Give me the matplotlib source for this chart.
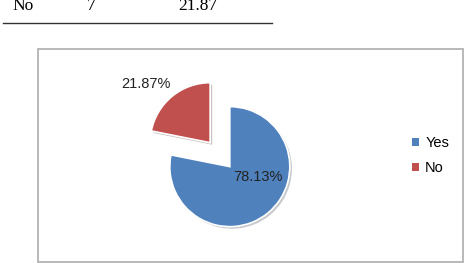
import matplotlib
matplotlib.use("Agg")
import matplotlib.pyplot as plt
import matplotlib.patheffects as pe
from matplotlib.patches import Rectangle
import numpy as np

# data
categories = ["Yes", "No"]
percentages = [78.13, 21.87]
table_row = ["No", "7", "21.87"]

colors = ["#4F81BD", "#C0504D"]

W, H = 473, 263
fig = plt.figure(figsize=(W / 100, H / 100), dpi=100)
ax = fig.add_axes([0, 0, 1, 1])

# cropped table row on top
for x, s in zip([12, 87, 178], table_row):
    ax.text(x, H - 10, s, family="Liberation Serif", fontsize=12.5, va="baseline")
ax.plot([3, 272], [H - 23, H - 23], color="#333333", lw=1)

# chart frame
ax.add_patch(Rectangle((38, H - 262), 425, 213.5, fill=False,
                       edgecolor="#b3b3b3", lw=1.3))

# pie (pixel units)
radius = 60
center = (226, H - 162)
explode = [6, 25]
wedges, texts = ax.pie(percentages, colors=colors, startangle=90, counterclock=False,
                       radius=radius, center=center, explode=explode,
                       wedgeprops=dict(edgecolor="white", linewidth=1.2))
for w in wedges:
    w.set_path_effects([pe.SimplePatchShadow(offset=(1.5, -1.5), alpha=0.25), pe.Normal()])

# percentage labels
label_pos = [(0.5, -21), (1.45, 138)]  # (distance in radii, angle deg) from wedge apex
for w, p, (d, a) in zip(wedges, percentages, label_pos):
    cx, cy = w.center
    ax.text(cx + d * radius * np.cos(np.radians(a)), cy + d * radius * np.sin(np.radians(a)),
            f"{p:.2f}%", ha="center", va="center", fontsize=10.5,
            family="Liberation Sans", color="#222222")

leg = ax.legend(wedges, categories, loc="center left", bbox_to_anchor=(412 / W, 1 - 155.5 / H),
                frameon=False, prop=dict(family="Liberation Sans", size=10.5),
                handlelength=0.5, handleheight=0.5, handletextpad=0.4,
                labelspacing=0.75, borderpad=0, borderaxespad=0)
for h in leg.legend_handles:
    h.set_edgecolor("none")
    h.set_path_effects([])

ax.set_xlim(0, W)
ax.set_ylim(0, H)
ax.set_aspect("auto")
ax.axis("off")

fig.savefig("out.png", dpi=100)
